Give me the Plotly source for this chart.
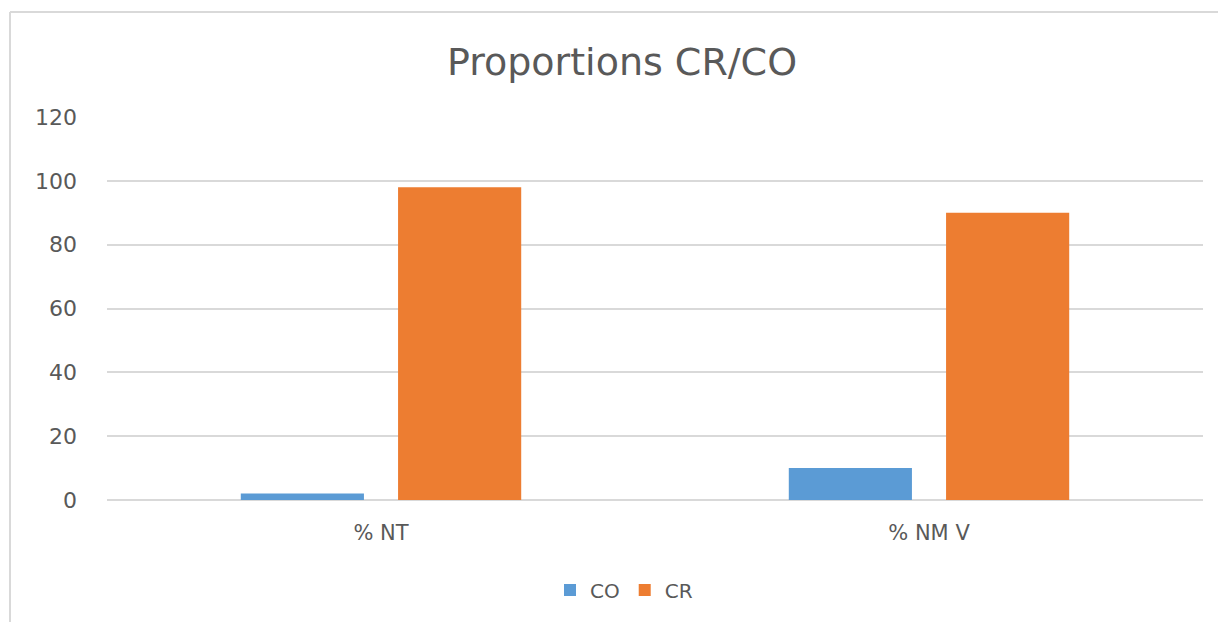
import plotly.graph_objects as go

categories = ["% NT", "% NM V"]
co_values = [2, 10]
cr_values = [98, 90]
series_names = ["CO", "CR"]
y_ticks = [0, 20, 40, 60, 80, 100, 120]

OFF = 8  # page body margin
W, H = 1226 - OFF, 622 - OFF
# plot area in page pixels: x 107..1203, y 117..500
L, T = 107 - OFF, 117 - OFF
R = W - (1203 - OFF)
B = H - (500 - OFF)
pw, ph = W - L - R, H - T - B

FONT = "DejaVu Sans, Open Sans, sans-serif"
GREY = "#595959"

fig = go.Figure()
fig.add_trace(go.Bar(name=series_names[0], x=categories, y=co_values, marker=dict(color="#5b9bd5", line=dict(width=0))))
fig.add_trace(go.Bar(name=series_names[1], x=categories, y=cr_values, marker=dict(color="#ed7d31", line=dict(width=0))))


def px(x):  # page pixel -> paper
    return (x - OFF - L) / pw


def py(y):
    return (H - B - (y - OFF)) / ph


frame = "#d9d9d9"
fig.add_shape(type="line", xref="paper", yref="paper", x0=px(10), x1=px(1240), y0=py(12), y1=py(12),
              line=dict(color=frame, width=2))
fig.add_shape(type="line", xref="paper", yref="paper", x0=px(10), x1=px(10), y0=py(12), y1=py(640),
              line=dict(color=frame, width=2))

fig.update_layout(
    width=W, height=H,
    margin=dict(l=L, r=R, t=T, b=B),
    paper_bgcolor="white", plot_bgcolor="white",
    barmode="group", bargap=0.426, bargroupgap=0.217,
    title=dict(text="Proportions CR/CO", xref="container", x=(622 - OFF) / W, xanchor="center",
               yref="container", y=1 - (62 - OFF) / H, yanchor="middle",
               font=dict(family=FONT, size=38, color=GREY)),
    font=dict(family=FONT, color=GREY, size=20),
    xaxis=dict(showgrid=False, showline=False, ticks="", ticklabelstandoff=18,
               tickfont=dict(size=21, color=GREY)),
    yaxis=dict(range=[0, 120], tickvals=y_ticks, showgrid=True, gridcolor="#d9d9d9", gridwidth=1.5,
               zeroline=True, zerolinecolor="#d9d9d9", zerolinewidth=1.5, showline=False,
               ticks="", ticklabelstandoff=29, tickfont=dict(size=22, color=GREY)),
    legend=dict(orientation="h", x=px(624), xanchor="center", y=py(590), yanchor="middle",
                font=dict(size=20, color=GREY), itemwidth=30, traceorder="normal"),
    showlegend=True,
)

fig.write_html("out.html")
